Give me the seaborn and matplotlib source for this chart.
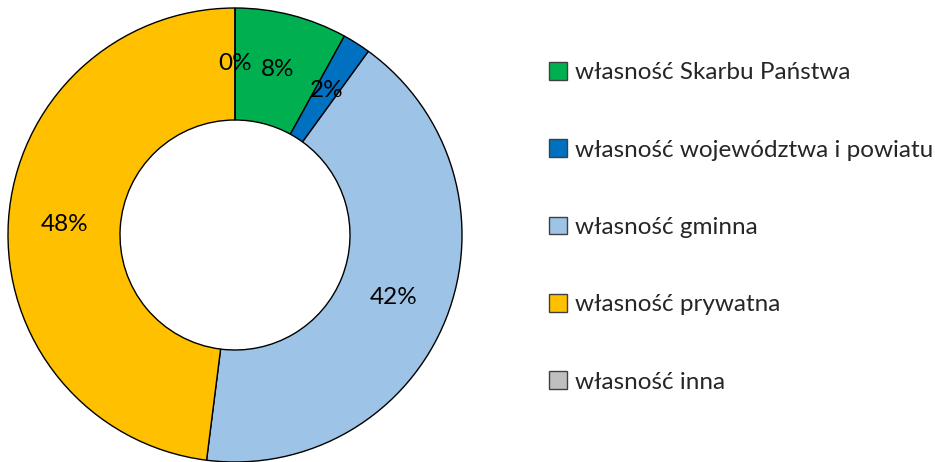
import matplotlib
matplotlib.use("Agg")
import matplotlib.pyplot as plt
import seaborn as sns
import numpy as np
from matplotlib.patches import Patch

sns.set_theme(style="white")
plt.rcParams['font.family'] = ['Lato', 'DejaVu Sans']

categories = ["własność Skarbu Państwa", "własność województwa i powiatu",
              "własność gminna", "własność prywatna", "własność inna"]
values = [8, 2, 42, 48, 0]
labels = ["8%", "2%", "42%", "48%", "0%"]
colors = ["#00B050", "#0070C0", "#9DC3E6", "#FFC000", "#BFBFBF"]

W, H = 935, 462
fig = plt.figure(figsize=(W / 100, H / 100), dpi=100)
cx, cy, R = 235, 235, 227
ax = fig.add_axes([(cx - R) / W, (H - cy - R) / H, 2 * R / W, 2 * R / H])
r_in = 115 / R
wedges, _ = ax.pie(values, colors=colors, startangle=90, counterclock=False,
                   radius=1, wedgeprops=dict(width=1 - r_in, edgecolor="black", linewidth=1))
total = sum(values)
start = 90.0
mid_r = (1 + r_in) / 2
for v, lab in zip(values, labels):
    ang = start - 360 * v / total / 2
    start -= 360 * v / total
    x = mid_r * np.cos(np.radians(ang))
    y = mid_r * np.sin(np.radians(ang))
    ax.text(x, y, lab, ha="center", va="center", fontsize=17.5, color="black")
ax.set_xlim(-1, 1)
ax.set_ylim(-1, 1)
ax.set_aspect("equal")
ax.axis("off")

handles = [Patch(facecolor=c, edgecolor="#404040", linewidth=1) for c in colors]
fig.legend(handles, categories, loc="upper left", bbox_to_anchor=(549 / W, 1 - 62 / H),
           frameon=False, fontsize=17.5, labelspacing=2.3, handlelength=0.75, handleheight=0.75,
           handletextpad=0.3, borderpad=0, borderaxespad=0)
fig.savefig("out.png", dpi=100)
